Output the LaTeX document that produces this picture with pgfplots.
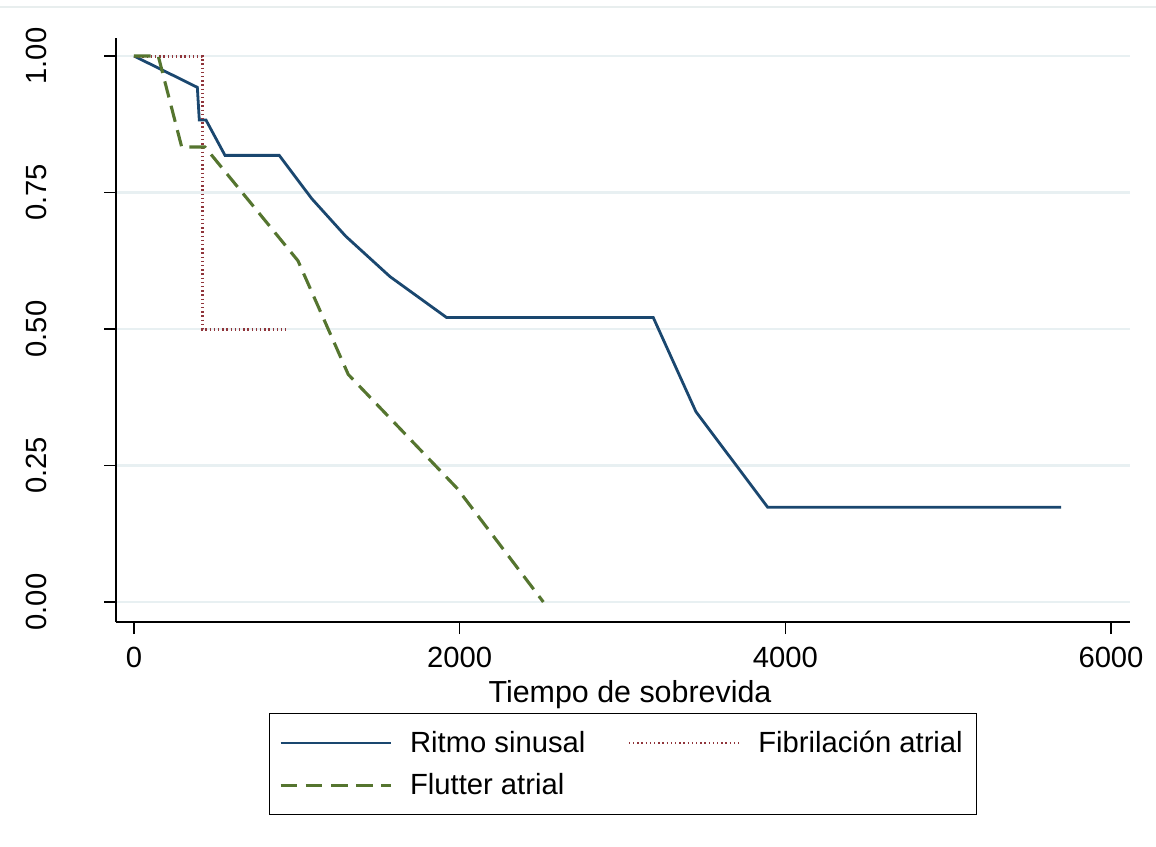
\documentclass[border=0pt]{standalone}
\usepackage{fontspec}
\setmainfont{Liberation Sans}
\usepackage{pgfplots}
\pgfplotsset{compat=1.18}
\definecolor{snavy}{RGB}{26,71,111}
\definecolor{smaroon}{RGB}{144,53,59}
\definecolor{sgreen}{RGB}{85,117,47}
\definecolor{sgrid}{RGB}{232,240,242}
\definecolor{sframe}{RGB}{232,238,238}
\newcommand{\lblfont}{\fontsize{14.6}{17}\selectfont}
\begin{document}
\begin{tikzpicture}
\begin{axis}[
  at={(58pt,112pt)}, anchor=south west,
  scale only axis, width=507pt, height=292pt,
  xmin=-110.5, xmax=6116.7, ymin=-0.0366, ymax=1.033,
  axis x line*=bottom, axis y line*=left,
  axis line style={line width=0.6pt, -, black},
  xtick={0,2000,4000,6000}, xticklabels={0,2000,4000,6000},
  ytick={0,0.25,0.5,0.75,1}, yticklabels={0.00,0.25,0.50,0.75,1.00},
  scaled x ticks=false,
  tick align=outside, major tick length=6pt,
  tick style={line width=0.6pt, black},
  ymajorgrids, major grid style={sgrid, line width=1.3pt},
  tick label style={font=\lblfont},
  yticklabel style={xshift=-28.5pt, rotate=90, anchor=south, inner sep=0pt},
  xticklabel style={anchor=north, inner sep=0pt, yshift=-6.5pt},
  xlabel={Tiempo de sobrevida},
  xlabel style={font=\fontsize{15.2}{17}\selectfont, at={(axis description cs:0.5,0)}, anchor=base, xshift=3.5pt, yshift=-40pt, inner sep=0pt},
  legend columns=2,
  legend cell align=left,
  legend style={at={(axis description cs:0.5,0)}, anchor=north, yshift=-45.5pt,
    draw=black, line width=0.7pt, font=\lblfont,
    inner xsep=5pt, inner ysep=6.5pt, row sep=5pt,
    /tikz/every odd column/.append style={column sep=7pt},
    /tikz/every even column/.append style={column sep=19pt}},
  legend image code/.code={\draw[#1, line width=1.45pt] (0pt,0pt) -- (55pt,0pt);},
]
\addplot[snavy, line width=1.4pt] coordinates {
 (0,1) (389,0.9426) (401,0.8828) (442,0.8828) (559,0.818) (892,0.818)
 (1091,0.739) (1300,0.670) (1572,0.596) (1920,0.521) (3189,0.521)
 (3451,0.3485) (3892,0.1734) (5693,0.1734)};
\addlegendentry{Ritmo sinusal}
\addplot[smaroon, line width=1.5pt, dash pattern=on 0.7pt off 1.4pt] coordinates {
 (0,1) (419,1) (419,0.5) (933,0.5)};
\addlegendentry{Fibrilación atrial}
\addplot[sgreen, line width=1.55pt, dash pattern=on 8.3pt off 4.3pt] coordinates {
 (0,1) (149,1) (293,0.8333) (436,0.8333) (1007,0.625) (1316,0.4167)
 (1984,0.2083) (2514,0)};
\addlegendentry{Flutter atrial}
\end{axis}
\draw[sframe, line width=0.7pt] (0pt,419.5pt) -- (578pt,419.5pt);
\pgfresetboundingbox
\path[use as bounding box] (0pt,0pt) rectangle (578pt,423pt);
\end{tikzpicture}
\end{document}
